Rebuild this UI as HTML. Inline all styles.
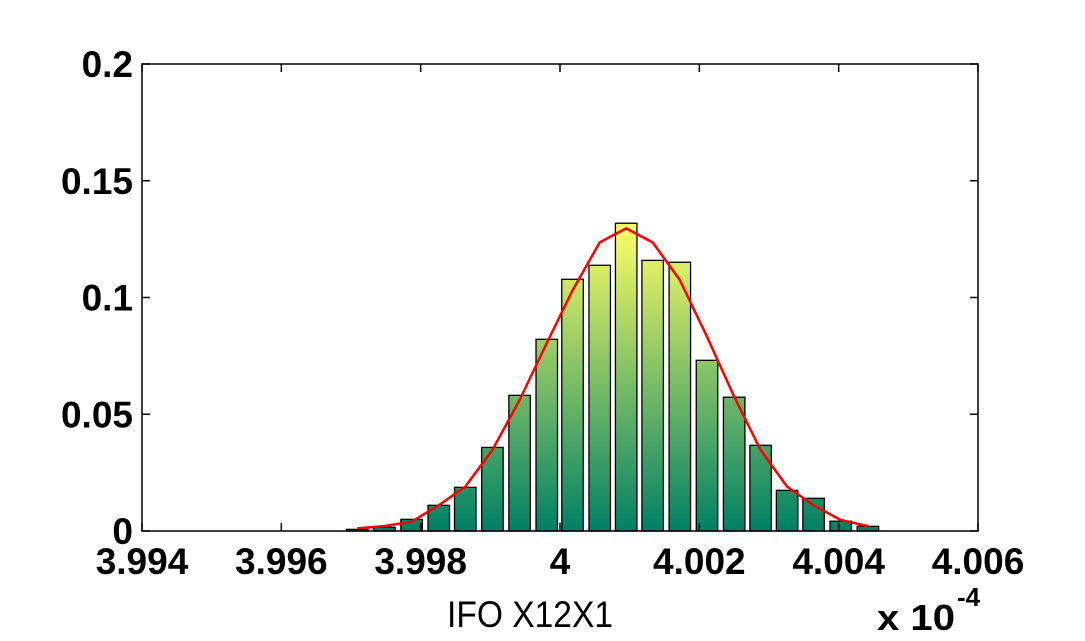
<!DOCTYPE html>
<html><head><meta charset="utf-8"><style>
html,body{margin:0;padding:0;background:#fff;}
svg{display:block;font-family:"Liberation Sans",Arial,sans-serif;}
</style></head><body>
<svg id="chart" width="1085" height="641" viewBox="0 0 1085 641" xmlns="http://www.w3.org/2000/svg">
<defs>
<linearGradient id="summer" gradientUnits="userSpaceOnUse" x1="0" y1="531" x2="0" y2="223">
<stop offset="0" stop-color="#008066"/><stop offset="1" stop-color="#ffff66"/>
</linearGradient>
</defs>
<g id="bars"></g>
<g id="fit"></g>
<g id="axes"></g>
<text x="530" y="627" font-size="37" text-anchor="middle" textLength="166" lengthAdjust="spacingAndGlyphs">IFO X12X1</text>
<text x="877" y="630" font-size="36" font-weight="bold" textLength="78" lengthAdjust="spacingAndGlyphs">x 10</text>
<text x="957" y="606" font-size="26" font-weight="bold">-4</text>
</svg>
<script>
const xTicks = [3.994, 3.996, 3.998, 4, 4.002, 4.004, 4.006];
const xTickLabels = ["3.994","3.996","3.998","4","4.002","4.004","4.006"];
const yTicks = [0, 0.05, 0.1, 0.15, 0.2];
const yTickLabels = ["0","0.05","0.1","0.15","0.2"];
const binCenters = [3.99709,3.99748,3.99787,3.99826,3.99864,3.99903,3.99942,3.99981,4.00018,4.00057,4.00095,4.00133,4.00172,4.00211,4.00250,4.00288,4.00326,4.00364,4.00403,4.00442];
const barValues = [0.0007,0.0016,0.005,0.011,0.0187,0.0358,0.0581,0.0821,0.1078,0.1138,0.1318,0.1159,0.1151,0.0731,0.0573,0.0367,0.0174,0.0140,0.0042,0.0020];
const fitValues = [0.0011,0.0021,0.004,0.011,0.019,0.0347,0.0561,0.0805,0.103,0.1236,0.1296,0.1236,0.1075,0.0832,0.0575,0.0347,0.019,0.011,0.0047,0.0021];

const L=142,R=978,T=64,B=531;
const xMin=3.994,xMax=4.006,yMin=0,yMax=0.2;
const xs=v=>L+(v-xMin)/(xMax-xMin)*(R-L);
const ys=v=>B-(v-yMin)/(yMax-yMin)*(B-T);
const NS="http://www.w3.org/2000/svg";
function mk(tag,attrs,parent){const e=document.createElementNS(NS,tag);for(const k in attrs)e.setAttribute(k,attrs[k]);parent.appendChild(e);return e;}

const barsG=document.getElementById('bars');
const step=(binCenters[binCenters.length-1]-binCenters[0])/(binCenters.length-1);
const bw=(xs(binCenters[0]+step)-xs(binCenters[0]))*0.8;
binCenters.forEach((c,i)=>{
  const y=ys(barValues[i]);
  const r=mk('rect',{x:xs(c)-bw/2,y:y,width:bw,height:B-y,fill:'url(#summer)',stroke:'#000','stroke-width':1.3},barsG);
  
  
});

const fitG=document.getElementById('fit');
const pts=binCenters.map((c,i)=>xs(c).toFixed(1)+','+ys(fitValues[i]).toFixed(1)).join(' ');
const pl=mk('polyline',{points:pts,fill:'none',stroke:'#ff0000','stroke-width':2.5,'stroke-linejoin':'round'},fitG);



const ax=document.getElementById('axes');
const box=mk('rect',{x:L,y:T,width:R-L,height:B-T,fill:'none',stroke:'#000','stroke-width':1.5},ax);


xTicks.forEach((v,i)=>{
  const x=xs(v);
  mk('line',{x1:x,y1:B,x2:x,y2:B-8,stroke:'#000','stroke-width':1.5},ax);
  mk('line',{x1:x,y1:T,x2:x,y2:T+8,stroke:'#000','stroke-width':1.5},ax);
  const t=mk('text',{x:x,y:574,'font-size':37,'font-weight':'bold','text-anchor':'middle'},ax);
  t.textContent=xTickLabels[i];
  
  
});
yTicks.forEach((v,i)=>{
  const y=ys(v);
  mk('line',{x1:L,y1:y,x2:L+8,y2:y,stroke:'#000','stroke-width':1.5},ax);
  mk('line',{x1:R,y1:y,x2:R-8,y2:y,stroke:'#000','stroke-width':1.5},ax);
  const t=mk('text',{x:133,y:y+13,'font-size':37,'font-weight':'bold','text-anchor':'end'},ax);
  t.textContent=yTickLabels[i];
  
  
});
</script>
</body></html>
